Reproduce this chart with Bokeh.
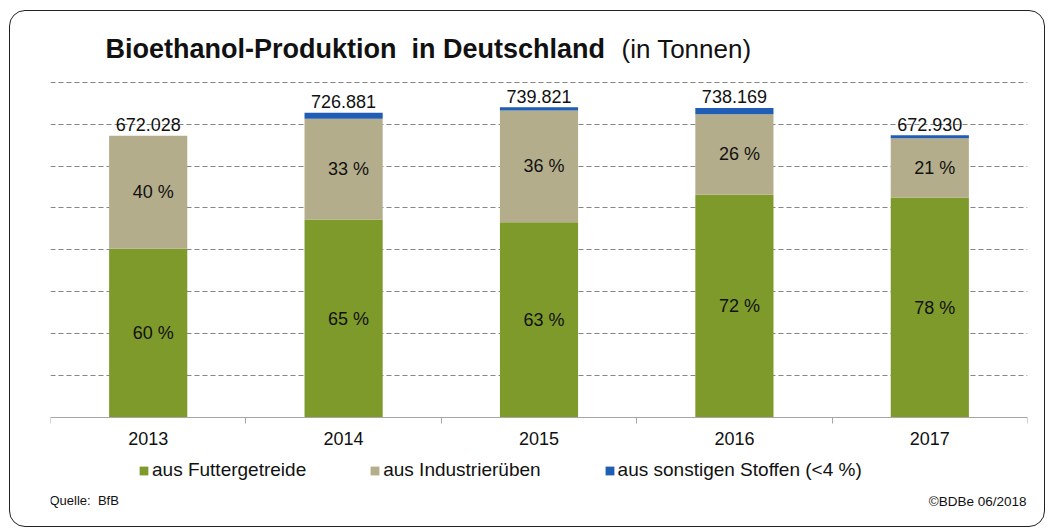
from bokeh.plotting import figure
from bokeh.models import (Range1d, FixedTicker, Label, Legend, LegendItem, ColumnDataSource)
from bokeh.embed import file_html
from bokeh.resources import INLINE
from bokeh.core.properties import value

# ---------------- data ----------------
years = ["2013", "2014", "2015", "2016", "2017"]
totals = [672028, 726881, 739821, 738169, 672930]
pct_futter = [60, 65, 63, 72, 78]
pct_rueben = [40, 33, 36, 26, 21]
series_names = ["aus Futtergetreide", "aus Industrierüben", "aus sonstigen Stoffen (<4 %)"]
grid_ticks = [100000, 200000, 300000, 400000, 500000, 600000, 700000, 800000]
title_main = "Bioethanol-Produktion\u00a0 in Deutschland"
title_unit = "(in Tonnen)"
source_note = "Quelle:\u00a0 BfB"
copyright_note = "©BDBe 06/2018"

FONT = "Liberation Sans"
C_GREEN = "#7E9A2B"
C_TAN = "#B4AD8B"
C_BLUE = "#1F5EB4"
TXT = "#111111"

futter = [t * p / 100 for t, p in zip(totals, pct_futter)]
rueben = [t * p / 100 for t, p in zip(totals, pct_rueben)]
sonst = [t - f - r for t, f, r in zip(totals, futter, rueben)]
xs = [i + 0.5 for i in range(len(years))]

src = ColumnDataSource(dict(
    x=xs, futter=futter, rueben=rueben, sonst=sonst, total=totals,
    total_lbl=[f"{t:,}".replace(",", ".") for t in totals],
    futter_mid=[f / 2 for f in futter],
    rueben_mid=[f + r / 2 for f, r in zip(futter, rueben)],
    futter_lbl=[f"{p} %" for p in pct_futter],
    rueben_lbl=[f"{p} %" for p in pct_rueben],
))

# frame spans the full canvas height; the value axis 0..800 000 occupies the middle part
p = figure(width=1036, height=517, output_backend="svg", toolbar_location=None,
           x_range=Range1d(0, len(years)), y_range=Range1d(-263100, 967860),
           min_border_left=40, min_border_right=19, min_border_top=0, min_border_bottom=0)
p.margin = (10, 0, 0, 9)
p.styles = {"border": "1.5px solid #222222", "border-radius": "16px"}
p.outline_line_color = None
p.background_fill_color = None
p.border_fill_color = None

p.yaxis.visible = False
p.xgrid.visible = False
p.ygrid.ticker = FixedTicker(ticks=grid_ticks)
p.ygrid.grid_line_color = "#858585"
p.ygrid.grid_line_dash = "5 3"
p.ygrid.grid_line_width = 1

ax = p.xaxis[0]
ax.fixed_location = 0
ax.ticker = FixedTicker(ticks=xs, minor_ticks=list(range(len(years) + 1)))
ax.major_label_overrides = {x: y for x, y in zip(xs, years)}
ax.axis_line_color = "#A6A6A6"
ax.major_tick_line_color = None
ax.major_tick_in = 0
ax.major_tick_out = 0
ax.minor_tick_line_color = "#A6A6A6"
ax.minor_tick_in = 0
ax.minor_tick_out = 6
ax.major_label_standoff = 8
ax.major_label_text_font = FONT
ax.major_label_text_font_size = "18px"
ax.major_label_text_color = TXT

renderers = p.vbar_stack(["futter", "rueben", "sonst"], x="x", width=0.4,
                         color=[C_GREEN, C_TAN, C_BLUE], line_color=None, source=src)

p.text(x="x", y="total", text="total_lbl", source=src, text_align="center",
       text_baseline="alphabetic", y_offset=-11, text_font=value(FONT),
       text_font_size="18px", text_color=TXT)
p.text(x="x", y="futter_mid", text="futter_lbl", source=src, text_align="center",
       text_baseline="middle", x_offset=5, text_font=value(FONT),
       text_font_size="18px", text_color=TXT)
p.text(x="x", y="rueben_mid", text="rueben_lbl", source=src, text_align="center",
       text_baseline="middle", x_offset=5, text_font=value(FONT),
       text_font_size="18px", text_color=TXT)

legend = Legend(items=[LegendItem(label=n, renderers=[r]) for n, r in zip(series_names, renderers)],
                orientation="horizontal", location=(88, 47), glyph_width=11, glyph_height=11,
                label_standoff=3, spacing=63, padding=0, margin=0, label_height=20,
                border_line_color=None, background_fill_alpha=0,
                label_text_font=FONT, label_text_font_size="19px", label_text_color=TXT)
p.add_layout(legend)

p.add_layout(Label(x=55, y=480, x_units="screen", y_units="screen",
                   text=title_main, text_font=FONT,
                   text_font_style="bold", text_font_size="27px", text_color=TXT,
                   text_baseline="alphabetic"))
p.add_layout(Label(x=571, y=480, x_units="screen", y_units="screen",
                   text=title_unit, text_font=FONT, text_font_size="26px",
                   text_color=TXT, text_baseline="alphabetic"))
p.add_layout(Label(x=-1, y=28, x_units="screen", y_units="screen",
                   text=source_note, text_font=FONT, text_font_size="13px",
                   text_color=TXT, text_baseline="alphabetic"))
p.add_layout(Label(x=976, y=27, x_units="screen", y_units="screen",
                   text=copyright_note, text_font=FONT, text_font_size="13.5px",
                   text_color=TXT, text_baseline="alphabetic", text_align="right"))

open("out.html", "w").write(file_html(p, INLINE))
